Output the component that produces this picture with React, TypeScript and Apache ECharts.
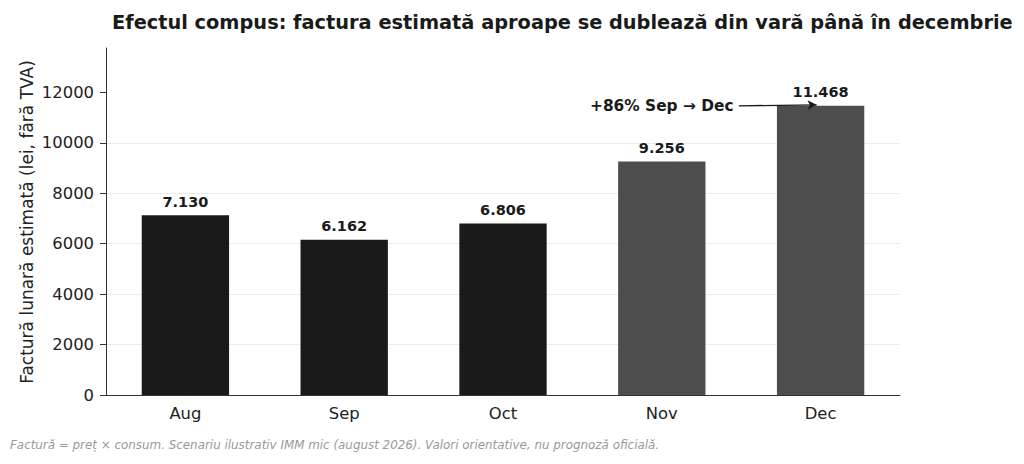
import React, { useEffect, useRef } from "react";
import * as echarts from "echarts";

const categories = ["Aug", "Sep", "Oct", "Nov", "Dec"];
const values = [7130, 6162, 6806, 9256, 11468];
const barColors = ["#1a1a1a", "#1a1a1a", "#1a1a1a", "#4d4d4d", "#4d4d4d"];
const yTicks = [0, 2000, 4000, 6000, 8000, 10000, 12000];
const titleText = "Efectul compus: factura estimată aproape se dublează din vară până în decembrie";
const yName = "Factură lunară estimată (lei, fără TVA)";
const noteText = "Factură = preț × consum. Scenariu ilustrativ IMM mic (august 2026). Valori orientative, nu prognoză oficială.";
const annotText = "+86% Sep → Dec";
const annotFrom = 3; // category index of text centre
const annotTo = 4; // arrow target category
const annotY = 11468;

const FONT = "DejaVu Sans, sans-serif";

const fmt = (v: number) => String(v).replace(/\B(?=(\d{3})+(?!\d))/g, ".");

export default function App() {
  const ref = useRef<HTMLDivElement>(null);
  useEffect(() => {
    document.body.style.margin = "0";
    const chart = echarts.init(ref.current!, null, { renderer: "svg" });
    const baseGraphic: any[] = [
      {
        type: "text",
        left: 10,
        top: 439,
        style: {
          text: noteText,
          fontFamily: FONT,
          fontSize: 11.9,
          fontStyle: "italic",
          fill: "#999999",
        },
      },
      {
        type: "text",
        x: 27,
        y: 222,
        rotation: Math.PI / 2,
        style: {
          text: yName,
          fontFamily: FONT,
          fontSize: 17,
          fill: "#222222",
          align: "center",
          verticalAlign: "middle",
        },
      },
    ];
    const option: any = {
      animation: false,
      backgroundColor: "#ffffff",
      textStyle: { fontFamily: FONT },
      title: {
        text: titleText,
        left: 107,
        top: 8,
        textStyle: { fontFamily: FONT, fontSize: 19.35, fontWeight: "bold", color: "#1a1a1a" },
      },
      grid: { left: 106, right: 124, top: 48, bottom: 69 },
      xAxis: {
        type: "category",
        data: categories,
        axisLine: { lineStyle: { color: "#333333", width: 1 } },
        axisTick: { alignWithLabel: true, length: 6, lineStyle: { color: "#333333" } },
        axisLabel: { fontSize: 16.4, color: "#222222", margin: 10, fontFamily: FONT },
      },
      yAxis: {
        type: "value",
        min: 0,
        max: 13762,
        interval: 2000,
        axisLine: { show: true, lineStyle: { color: "#333333", width: 1 } },
        axisTick: { show: true, length: 6, lineStyle: { color: "#333333" }, customValues: yTicks },
        axisLabel: {
          fontSize: 16.4,
          color: "#222222",
          margin: 12,
          fontFamily: FONT,
          customValues: yTicks,
          formatter: (v: number) => String(v),
        },
        splitLine: { show: true, showMaxLine: false, lineStyle: { color: "#ebebeb", width: 1 } },
      },
      series: [
        {
          type: "bar",
          barWidth: "55%",
          data: values.map((v, i) => ({ value: v, itemStyle: { color: barColors[i] } })),
          label: {
            show: true,
            position: "top",
            distance: 6,
            formatter: (p: any) => fmt(p.value),
            fontFamily: FONT,
            fontSize: 14.5,
            fontWeight: "bold",
            color: "#1a1a1a",
          },
        },
      ],
      graphic: baseGraphic,
    };
    chart.setOption(option);
    const from = chart.convertToPixel({ gridIndex: 0 }, [annotFrom, annotY]) as number[];
    const to = chart.convertToPixel({ gridIndex: 0 }, [annotTo, annotY]) as number[];
    const textW = 144;
    chart.setOption({
      graphic: [
        ...baseGraphic,
        {
          type: "text",
          x: from[0],
          y: from[1],
          style: {
            text: annotText,
            fontFamily: FONT,
            fontSize: 15.4,
            fontWeight: "bold",
            fill: "#1a1a1a",
            align: "center",
            verticalAlign: "middle",
          },
        },
      ],
      series: [
        {
          markLine: {
            silent: true,
            symbol: ["none", "arrow"],
            symbolSize: [7, 9],
            label: { show: false },
            lineStyle: { color: "#1a1a1a", width: 1.3, type: "solid" },
            data: [
              [
                { x: from[0] + textW / 2 + 5, y: from[1] },
                { x: to[0] - 4, y: to[1] - 1 },
              ],
            ],
          },
        },
      ],
    });
    return () => chart.dispose();
  }, []);
  return <div ref={ref} style={{ position: "fixed", left: 0, top: 0, width: 1024, height: 464 }} />;
}
